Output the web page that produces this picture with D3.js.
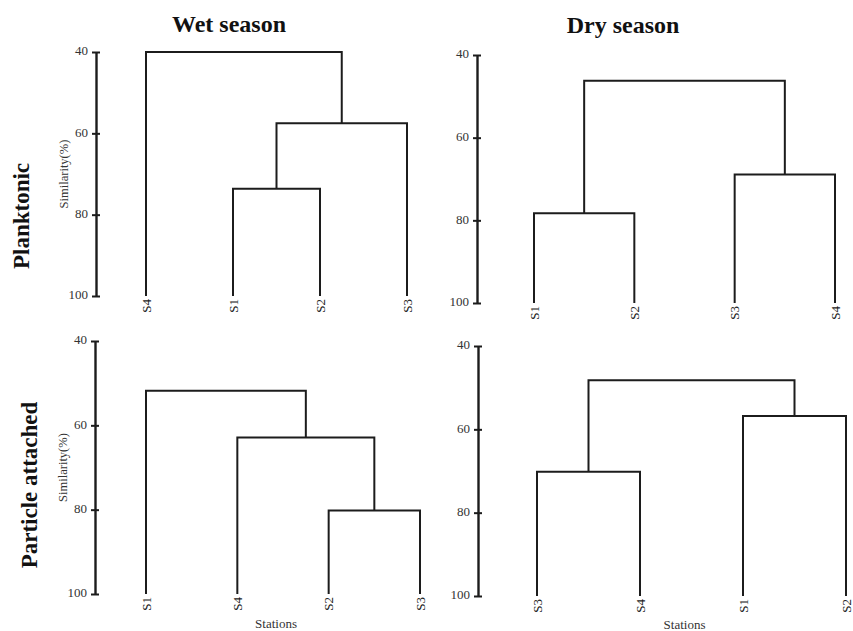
<!DOCTYPE html>
<html>
<head>
<meta charset="utf-8">
<script src="https://cdn.jsdelivr.net/npm/d3@7"></script>
<style>
  html, body { margin: 0; padding: 0; background: #fff; }
  svg { display: block; }
  svg text { font-family: "Liberation Serif", "Times New Roman", serif !important; }
</style>
</head>
<body>
<svg id="chart" width="853" height="631"></svg>
<script>
// Similarity axis ticks (%)
const simTicks = [40, 60, 80, 100];

// Leaf order and merge steps [clusterA, clusterB, similarity %] per dendrogram
const wetPlanktonicLeaves = ["S4", "S1", "S2", "S3"];
const wetPlanktonicMerges = [
  ["S1", "S2", 73.6],
  ["S1+S2", "S3", 57.5],
  ["S4", "S1+S2+S3", 40.0]
];

const dryPlanktonicLeaves = ["S1", "S2", "S3", "S4"];
const dryPlanktonicMerges = [
  ["S1", "S2", 78.3],
  ["S3", "S4", 68.9],
  ["S1+S2", "S3+S4", 46.2]
];

const wetParticleLeaves = ["S1", "S4", "S2", "S3"];
const wetParticleMerges = [
  ["S2", "S3", 80.2],
  ["S4", "S2+S3", 62.9],
  ["S1", "S4+S2+S3", 51.8]
];

const dryParticleLeaves = ["S3", "S4", "S1", "S2"];
const dryParticleMerges = [
  ["S3", "S4", 70.2],
  ["S1", "S2", 56.8],
  ["S3+S4", "S1+S2", 48.2]
];

const svg = d3.select("#chart");
const ink = "#1c1c1c";
const serif = "'Liberation Serif', 'Times New Roman', serif";

// Panel frames: axis x, y extent of the similarity axis, leaf x extent
const frames = [
  { leaves: wetPlanktonicLeaves, merges: wetPlanktonicMerges, axisX: 96,  y0: 52,  y1: 296, lx0: 146, lx1: 407, simLabel: true,  stations: false },
  { leaves: dryPlanktonicLeaves, merges: dryPlanktonicMerges, axisX: 477, y0: 55,  y1: 303, lx0: 534, lx1: 835, simLabel: false, stations: false },
  { leaves: wetParticleLeaves,   merges: wetParticleMerges,   axisX: 95,  y0: 341, y1: 594, lx0: 146, lx1: 420, simLabel: true,  stations: true, stationsY: 628 },
  { leaves: dryParticleLeaves,   merges: dryParticleMerges,   axisX: 478, y0: 346, y1: 596, lx0: 537, lx1: 846, simLabel: false, stations: true, stationsY: 629 }
];

frames.forEach(f => {
  const g = svg.append("g");
  const y = d3.scaleLinear().domain([40, 100]).range([f.y0, f.y1]);
  const x = d3.scalePoint().domain(f.leaves).range([f.lx0, f.lx1]);

  // Similarity axis with ticks crossing the axis line
  const axis = d3.axisLeft(y).tickValues(simTicks).tickSizeInner(4).tickSizeOuter(0).tickPadding(4);
  const ag = g.append("g").attr("transform", `translate(${f.axisX},0)`).call(axis)
    .attr("font-family", serif).attr("font-size", 13);
  ag.select(".domain").attr("stroke", ink).attr("stroke-width", 2.4);
  ag.selectAll(".tick line").attr("x1", 4).attr("stroke", ink).attr("stroke-width", 2);
  ag.selectAll(".tick text").attr("fill", "#333").attr("dy", "0.22em");

  // Node positions: leaves sit at 100 % similarity
  const pos = {};
  f.leaves.forEach(l => { pos[l] = { x: x(l), y: y(100) }; });

  const p = d3.path();
  f.merges.forEach(([a, b, s]) => {
    const A = pos[a], B = pos[b], ym = y(s);
    p.moveTo(A.x, A.y);
    p.lineTo(A.x, ym);
    p.lineTo(B.x, ym);
    p.lineTo(B.x, B.y);
    pos[a + "+" + b] = { x: (A.x + B.x) / 2, y: ym };
  });
  g.append("path").attr("d", p.toString())
    .attr("fill", "none").attr("stroke", ink).attr("stroke-width", 2)
    .attr("stroke-linejoin", "miter");

  // Station labels, rotated under each leaf
  g.selectAll(".leaf").data(f.leaves).join("text")
    .attr("class", "leaf")
    .attr("transform", d => `translate(${x(d)},${y(100) + 3}) rotate(-90)`)
    .attr("text-anchor", "end").attr("dy", "0.35em")
    .attr("font-family", serif).attr("font-size", 13).attr("fill", "#222")
    .text(d => d);

  if (f.simLabel) {
    g.append("text")
      .attr("transform", `translate(${f.axisX - 28},${(f.y0 + f.y1) / 2}) rotate(-90)`)
      .attr("text-anchor", "middle").attr("font-family", serif)
      .attr("font-size", 12.5).attr("fill", "#333")
      .text("Similarity(%)");
  }
  if (f.stations) {
    g.append("text")
      .attr("x", (f.lx0 + f.lx1) / 2 - 7).attr("y", f.stationsY)
      .attr("text-anchor", "middle").attr("font-family", serif)
      .attr("font-size", 13).attr("fill", "#333")
      .text("Stations");
  }
});

// Column and row headings
const heading = (t, tr, size) => svg.append("text").attr("transform", tr)
  .attr("text-anchor", "middle").attr("font-family", serif)
  .attr("font-size", size).attr("font-weight", "bold").attr("fill", "#111").text(t);
heading("Wet season", "translate(229,32)", 24);
heading("Dry season", "translate(623,33)", 24);
heading("Planktonic", "translate(29,216) rotate(-90)", 23);
heading("Particle attached", "translate(37,485) rotate(-90)", 23);
</script>
</body>
</html>
